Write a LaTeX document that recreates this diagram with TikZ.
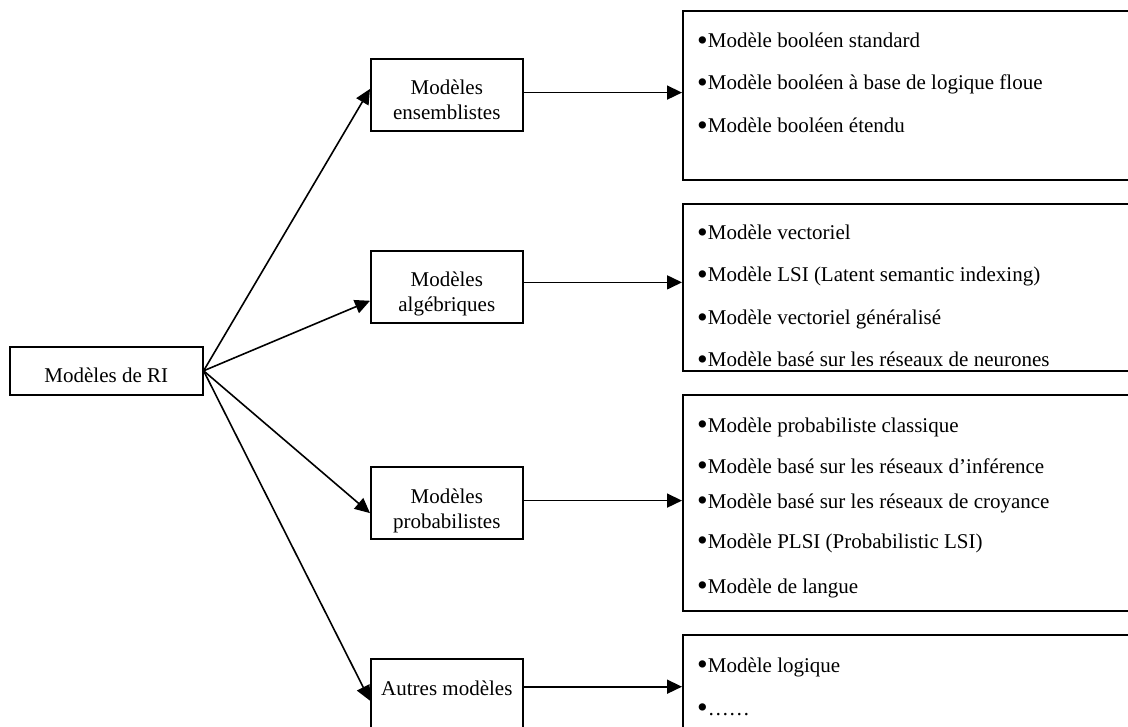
\documentclass[tikz,border=0pt]{standalone}
\usepackage{fontspec}
\usepackage{graphicx}
\setmainfont{Liberation Serif}
\usetikzlibrary{arrows.meta,calc}
% list bullet, a little larger than the font's own
\newcommand\listbul{\raisebox{-2.2pt}{\scalebox{1.45}{•}}}
\begin{document}
\begin{tikzpicture}[x=1pt,y=-1pt,
  box/.style={draw, line width=1.6pt, rectangle, inner sep=0pt, anchor=north west},
  lbl/.style={inner sep=0pt, anchor=base, font=\fontsize{21}{25}\selectfont},
  item/.style={inner sep=0pt, anchor=base west, font=\fontsize{21}{25}\selectfont},
  arr/.style={line width=1.6pt, -{Triangle[length=15pt,width=14pt]}},
]
\useasboundingbox (0,0) rectangle (1128,727);
\fill[white] (0,0) rectangle (1128,727);
\clip (0,0) rectangle (1128,727);

% root of the classification
\node[box, minimum width=193pt, minimum height=48pt] (root) at (9,346) {};
\node[lbl] (rootT) at ($(root.north)+(0,37)$) {Modèles de RI};

% families of models
\node[box, minimum width=152pt, minimum height=72pt] (m1) at (370,58) {};
\node[box, minimum width=152pt, minimum height=72pt] (m2) at (370,250) {};
\node[box, minimum width=152pt, minimum height=72pt] (m3) at (370,466) {};
\node[box, minimum width=152pt, minimum height=72pt] (m4) at (370,658) {};

\node[lbl] (m1a) at ($(m1.north)+(0,37)$) {Modèles};
\node[lbl] (m1b) at ($(m1.north)+(0,62)$) {ensemblistes};
\node[lbl] (m2a) at ($(m2.north)+(0,37)$) {Modèles};
\node[lbl] (m2b) at ($(m2.north)+(0,62)$) {algébriques};
\node[lbl] (m3a) at ($(m3.north)+(0,37)$) {Modèles};
\node[lbl] (m3b) at ($(m3.north)+(0,62)$) {probabilistes};
\node[lbl] (m4a) at ($(m4.north)+(0,37)$) {Autres modèles};

% lists of models
\node[box, minimum width=460pt, minimum height=169pt] (r1) at (682,10) {};
\node[box, minimum width=460pt, minimum height=167pt] (r2) at (682,203) {};
\node[box, minimum width=460pt, minimum height=216pt] (r3) at (682,394) {};
\node[box, minimum width=460pt, minimum height=130pt] (r4) at (682,634) {};

\foreach \t/\dy [count=\k] in {
  {Modèle booléen standard}/38,
  {Modèle booléen à base de logique floue}/80,
  {Modèle booléen étendu}/123}
  \node[item] (r1-\k) at ($(r1.north west)+(15,\dy)$) {\listbul\t};

\foreach \t/\dy [count=\k] in {
  {Modèle vectoriel}/37,
  {Modèle LSI (Latent semantic indexing)}/79,
  {Modèle vectoriel généralisé}/122,
  {Modèle basé sur les réseaux de neurones}/164}
  \node[item] (r2-\k) at ($(r2.north west)+(15,\dy)$) {\listbul\t};

\foreach \t/\dy [count=\k] in {
  {Modèle probabiliste classique}/38,
  {Modèle basé sur les réseaux d’inférence}/79,
  {Modèle basé sur les réseaux de croyance}/114,
  {Modèle PLSI (Probabilistic LSI)}/154,
  {Modèle de langue}/199}
  \node[item] (r3-\k) at ($(r3.north west)+(15,\dy)$) {\listbul\t};

\foreach \t/\dy [count=\k] in {
  {Modèle logique}/38,
  {……}/81}
  \node[item] (r4-\k) at ($(r4.north west)+(15,\dy)$) {\listbul\t};

% connectors from the root to each family
\draw[arr] (root.east) -- ($(m1.north west)!.42!(m1.south west)$);
\draw[arr] (root.east) -- ($(m2.north west)!.69!(m2.south west)$);
\draw[arr] (root.east) -- ($(m3.north west)!.64!(m3.south west)$);
\draw[arr] (root.east) -- ($(m4.north west)!.58!(m4.south west)$);

% connectors from each family to its list
\coordinate (o1) at ($(m1.north east)!.47!(m1.south east)$);
\coordinate (o2) at ($(m2.north east)!.44!(m2.south east)$);
\coordinate (o3) at ($(m3.north east)!.47!(m3.south east)$);
\coordinate (o4) at ($(m4.north east)!.39!(m4.south east)$);
\draw[arr] (o1) -- (o1 -| r1.west);
\draw[arr] (o2) -- (o2 -| r2.west);
\draw[arr] (o3) -- (o3 -| r3.west);
\draw[arr] (o4) -- (o4 -| r4.west);
\end{tikzpicture}
\end{document}
